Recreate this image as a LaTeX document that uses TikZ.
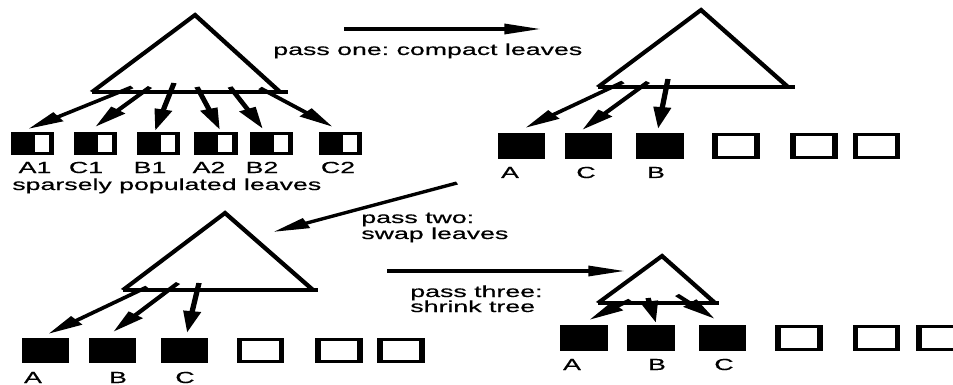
\documentclass[tikz,border=0pt]{standalone}
\usepackage{fontspec}
\setmainfont[FakeBold=0.4]{Liberation Sans}
\usetikzlibrary{arrows.meta}
\tikzset{
  edge/.style={line width=3.2pt, line join=miter},
  arr/.style={line width=3.2pt, -{Triangle[length=22pt,width=10pt]}},
  lbl/.style={font=\fontsize{16}{16}\selectfont, inner sep=0pt},
  leafbox/.style={draw, line width=3.2pt, inner sep=0pt, minimum width=25pt, minimum height=22.7pt},
  fullbox/.style={leafbox, fill=black},
  halfbox/.style={leafbox, minimum width=22.7pt, minimum height=19.8pt,
    path picture={\fill[black] (path picture bounding box.south west) rectangle ([xshift=1.2pt]path picture bounding box.north);}},
}
\begin{document}
\frenchspacing
\begin{tikzpicture}[x=1pt,y=-1pt]
\useasboundingbox (0,0) rectangle (953,385);
\fill[white] (0,0) rectangle (953,385);
\clip (0,0) rectangle (953,385);
\begin{scope}[transform canvas={xscale=1.67}, x=0.5988pt, y=-1pt]
% ---------- tree 1 ----------
\coordinate (t1apex) at (195,15);
\coordinate (t1l) at (92,92);
\coordinate (t1r) at (280,92);
\coordinate (t1b) at (288,92);
\draw[edge] (t1l) -- (t1apex) -- (t1r);
\draw[edge] (t1l) -- (t1b);
\node[halfbox] (L1a) at (32.5,143.5) {};
\node[halfbox] (L1b) at (95.5,143.5) {};
\node[halfbox] (L1c) at (158.5,143.5) {};
\node[halfbox] (L1d) at (216,143.5) {};
\node[halfbox] (L1e) at (271.5,143.5) {};
\node[halfbox] (L1f) at (340.5,143.5) {};
\coordinate (s1a) at (132,87);  \coordinate (e1a) at (28,129);
\coordinate (s1b) at (150,87);  \coordinate (e1b) at (95,127);
\coordinate (s1c) at (174,83);  \coordinate (e1c) at (155,131);
\coordinate (s1d) at (197,87);  \coordinate (e1d) at (220,130);
\coordinate (s1e) at (230,87);  \coordinate (e1e) at (263,129);
\coordinate (s1f) at (260,88);  \coordinate (e1f) at (333,127);
\foreach \k in {a,b,c,d,e,f} {\draw[arr] (s1\k) -- (e1\k);}
\node[lbl, anchor=base] (n1a) at (35,173) {A1};
\node[lbl, anchor=base] (n1b) at (86,173) {C1};
\node[lbl, anchor=base] (n1c) at (150,173) {B1};
\node[lbl, anchor=base] (n1d) at (209,173) {A2};
\node[lbl, anchor=base] (n1e) at (262,173) {B2};
\node[lbl, anchor=base] (n1f) at (338,173) {C2};
\node[lbl, anchor=base west] (sp) at (12,190) {sparsely populated leaves};
% ---------- pass one ----------
\coordinate (p1s) at (344,29); \coordinate (p1e) at (541,29);
\draw[arr] (p1s) -- (p1e);
\node[lbl, anchor=base west] (p1t) at (273,55) {pass one: compact leaves};
% ---------- tree 2 ----------
\coordinate (t2apex) at (701,10);
\coordinate (t2l) at (598,87);
\coordinate (t2r) at (788,87);
\coordinate (t2b) at (795,87);
\draw[edge] (t2l) -- (t2apex) -- (t2r);
\draw[edge] (t2l) -- (t2b);
\node[fullbox] (L2a) at (521.5,146) {};
\node[fullbox] (L2b) at (588.5,146) {};
\node[fullbox] (L2c) at (660,146) {};
\node[leafbox] (L2d) at (736,146) {};
\node[leafbox] (L2e) at (814,146) {};
\node[leafbox] (L2f) at (876.5,146) {};
\coordinate (s2a) at (623,82); \coordinate (e2a) at (525,128);
\coordinate (s2b) at (648,82); \coordinate (e2b) at (582,130);
\coordinate (s2c) at (668,79); \coordinate (e2c) at (658,129);
\foreach \k in {a,b,c} {\draw[arr] (s2\k) -- (e2\k);}
\node[lbl, anchor=base] (n2a) at (510,178) {A};
\node[lbl, anchor=base] (n2b) at (586,178) {C};
\node[lbl, anchor=base] (n2c) at (656,178) {B};
% ---------- pass two ----------
\coordinate (p2s) at (457,183); \coordinate (p2e) at (273,232);
\draw[arr] (p2s) -- (p2e);
\node[lbl, anchor=base west] (p2t) at (361,223) {pass two:};
\node[lbl, anchor=base west] (p2u) at (361,239) {swap leaves};
% ---------- tree 3 ----------
\coordinate (t3apex) at (225,213);
\coordinate (t3l) at (123,290);
\coordinate (t3r) at (313,290);
\coordinate (t3b) at (318,290);
\draw[edge] (t3l) -- (t3apex) -- (t3r);
\draw[edge] (t3l) -- (t3b);
\node[fullbox] (L3a) at (45.5,350.5) {};
\node[fullbox] (L3b) at (112.5,350.5) {};
\node[fullbox] (L3c) at (184.5,350.5) {};
\node[leafbox] (L3d) at (260.5,350.5) {};
\node[leafbox] (L3e) at (339,350.5) {};
\node[leafbox] (L3f) at (401,350.5) {};
\coordinate (s3a) at (147,287); \coordinate (e3a) at (48,334);
\coordinate (s3b) at (178,283); \coordinate (e3b) at (113,332);
\coordinate (s3c) at (199,283); \coordinate (e3c) at (187,333);
\foreach \k in {a,b,c} {\draw[arr] (s3\k) -- (e3\k);}
\node[lbl, anchor=base] (n3a) at (33,383) {A};
\node[lbl, anchor=base] (n3b) at (118,383) {B};
\node[lbl, anchor=base] (n3c) at (185,383) {C};
% ---------- pass three ----------
\coordinate (p3s) at (387,271); \coordinate (p3e) at (625,271);
\draw[arr] (p3s) -- (p3e);
\node[lbl, anchor=base west] (p3t) at (410,297) {pass three:};
\node[lbl, anchor=base west] (p3u) at (410,312) {shrink tree};
% ---------- tree 4 ----------
\coordinate (t4apex) at (662,256);
\coordinate (t4l) at (598,303);
\coordinate (t4r) at (715,303);
\coordinate (t4b) at (719,303);
\draw[edge] (t4l) -- (t4apex) -- (t4r);
\draw[edge] (t4l) -- (t4b);
\node[fullbox] (L4a) at (584,338) {};
\node[fullbox] (L4b) at (651,338) {};
\node[fullbox] (L4c) at (722.5,338) {};
\node[leafbox] (L4d) at (799,338) {};
\node[leafbox] (L4e) at (876.5,338) {};
\node[leafbox] (L4f) at (940,338) {};
\coordinate (s4a) at (630,300); \coordinate (e4a) at (589,320);
\coordinate (s4b) at (648,298); \coordinate (e4b) at (656,323);
\coordinate (s4c) at (677,295); \coordinate (e4c) at (715,319);
\foreach \k in {a,b,c} {\draw[arr] (s4\k) -- (e4\k);}
\node[lbl, anchor=base] (n4a) at (572,370) {A};
\node[lbl, anchor=base] (n4b) at (657,370) {B};
\node[lbl, anchor=base] (n4c) at (724,370) {C};
\end{scope}
\end{tikzpicture}
\end{document}
